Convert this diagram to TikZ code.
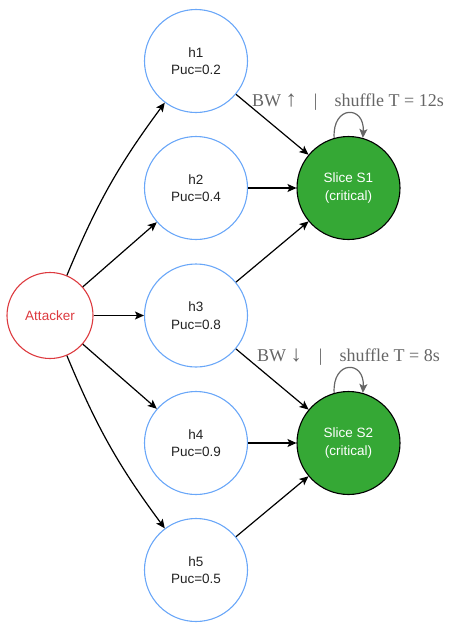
\documentclass[tikz,border=0pt]{standalone}
\usepackage{fontspec}
\setmainfont{Liberation Serif}
\setsansfont{Liberation Sans}
\usetikzlibrary{arrows.meta}
\definecolor{hostblue}{HTML}{6AA7F8}
\definecolor{attackred}{HTML}{DD3A3F}
\definecolor{slicegreen}{HTML}{35A835}
\definecolor{notegray}{HTML}{666666}
\definecolor{inktext}{HTML}{222222}

\begin{document}
\begin{tikzpicture}[x=1pt,y=1pt,
  nodefont/.style={font=\sffamily\fontsize{13.5}{17.5}\selectfont},
  host/.style={circle, draw=hostblue, line width=1.1pt, minimum size=103pt,
    inner sep=0pt, align=center, nodefont, text=inktext},
  attacker/.style={circle, draw=attackred, line width=1.1pt, minimum size=86pt,
    inner sep=0pt, align=center, nodefont, text=attackred},
  slice/.style={circle, draw=black, fill=slicegreen, line width=1.1pt,
    minimum size=103pt, inner sep=0pt, align=center, nodefont, text=white},
  link/.style={line width=1.2pt, -{Stealth[length=9pt,width=8pt,inset=2pt]}},
  selfloop/.style={draw=notegray, line width=1.2pt,
    -{Stealth[length=9pt,width=8pt,inset=2pt]}, fill=none},
  note/.style={anchor=base west, text=notegray, inner sep=0pt,
    font=\fontsize{18}{21}\selectfont}
]
\useasboundingbox (0,0) rectangle (448,-625);

% attack source
\node[attacker] (att) at (50,-315.5) {Attacker};

% hosts
\node[host] (h1) at (196,-61)  {h1\\Puc=0.2};
\node[host] (h2) at (196,-188) {h2\\Puc=0.4};
\node[host] (h3) at (196,-315.5) {h3\\Puc=0.8};
\node[host] (h4) at (196,-443) {h4\\Puc=0.9};
\node[host] (h5) at (196,-570) {h5\\Puc=0.5};

% network slices
\node[slice] (s1) at (348.5,-188) {Slice S1\\(critical)};
\node[slice] (s2) at (348.5,-443) {Slice S2\\(critical)};

% attacker reaches every host
\draw[link] (att) to[bend left=7] (h1);
\draw[link] (att) -- (h2);
\draw[link] (att) -- (h3);
\draw[link] (att) -- (h4);
\draw[link] (att) to[bend right=7] (h5);

% hosts attached to slices
\draw[link] (h1) -- (s1);
\draw[link] (h2) -- (s1);
\draw[link] (h3) -- (s1);
\draw[link] (h3) -- (s2);
\draw[link] (h4) -- (s2);
\draw[link] (h5) -- (s2);

% slice self-loops (shuffling)
\draw[selfloop] (s1.106) .. controls +(-2,33) and +(2,33) .. (s1.74);
\draw[selfloop] (s2.106) .. controls +(-2,33) and +(2,33) .. (s2.74);

% slice policies
\node[note] (n1) at (252,-106) {BW \scalebox{1.25}{↑}\hspace{17pt}|\hspace{17pt}shuffle T = 12s};
\node[note] (n2) at (257,-361) {BW \scalebox{1.25}{↓}\hspace{17pt}|\hspace{17pt}shuffle T = 8s};
\end{tikzpicture}
\end{document}
